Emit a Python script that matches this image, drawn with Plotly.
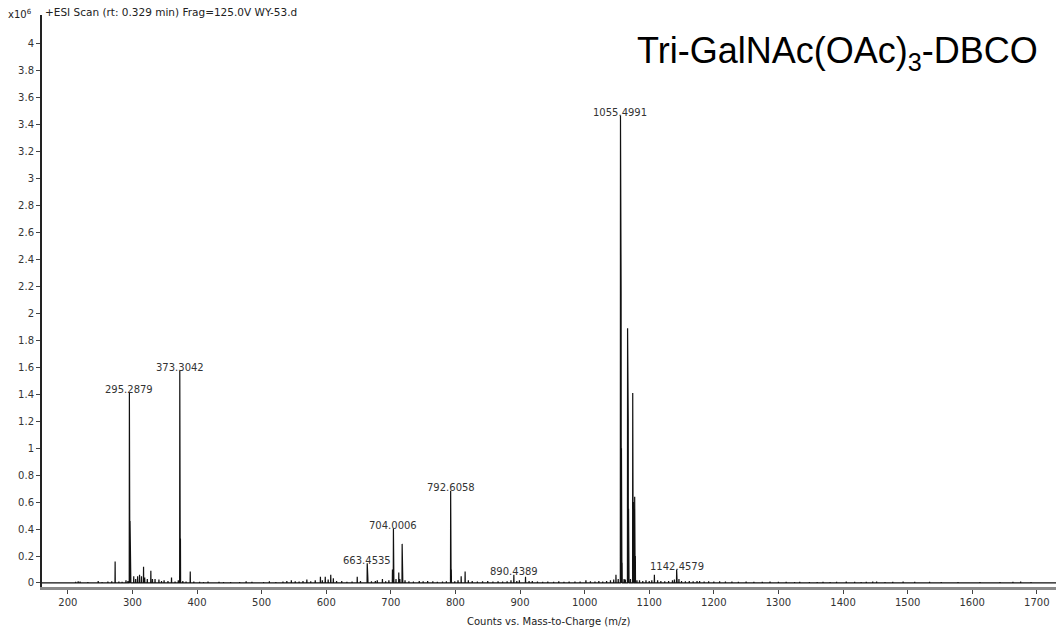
import plotly.graph_objects as go

# Labeled peaks (m/z, intensity x10^6)
label_mz = [295.2879, 373.3042, 663.4535, 704.0006, 792.6058, 890.4389, 1055.4991, 1142.4579]
label_int = [1.41, 1.575, 0.146, 0.405, 0.685, 0.06, 3.47, 0.10]
label_text = ["295.2879", "373.3042", "663.4535", "704.0006", "792.6058", "890.4389", "1055.4991", "1142.4579"]

# Other peaks (isotopes, adducts, and baseline noise), read by eye
other_mz = [205, 212, 216, 219, 224, 231, 238, 247, 253, 262, 268, 273.2, 279, 284, 290, 293,
            296.29, 297.3, 302, 305, 308, 311, 314, 317.2, 319, 323, 328.5, 331, 335, 341, 345, 349,
            355, 360.5, 366, 371, 374.31, 378, 383, 389.5, 395, 404, 410, 417, 425, 434, 441, 452,
            466, 476, 485, 493, 503, 512, 522, 533, 539, 546, 552, 558, 564, 570, 576, 583, 591,
            594, 598.5, 603, 607, 611, 616, 624, 632, 640, 648, 653, 664.4, 670, 676, 679, 687,
            692, 697, 702.5, 704.5, 708, 712.3, 714, 717.5, 718.3, 722, 728, 735, 744, 750, 757,
            765, 772, 780, 786, 793.1, 793.6, 799, 804, 808.9, 815, 820, 826, 834, 842, 850, 858,
            866, 873, 880, 886, 895, 899, 908.5, 914, 919, 927, 935, 943, 952, 960, 968, 976, 985,
            993, 1002, 1009, 1016, 1022, 1028, 1034, 1040, 1045, 1048.5, 1052, 1056.0, 1056.5,
            1057.0, 1057.5, 1058.0, 1061, 1063, 1066.49, 1067.0, 1067.5, 1068.0, 1068.5, 1071,
            1074.47, 1074.97, 1075.5, 1076.0, 1077.48, 1078.0, 1078.5, 1081, 1085, 1090, 1095,
            1100, 1104, 1108, 1113, 1118, 1124, 1130, 1136, 1139, 1143, 1146, 1150, 1156, 1162,
            1168, 1174, 1178, 1185, 1192, 1200, 1209, 1218, 1228, 1238, 1250, 1262, 1275, 1287,
            1300, 1312, 1325, 1333, 1348, 1360, 1369, 1380, 1390, 1405, 1418, 1428, 1436, 1446,
            1452, 1465, 1477, 1493, 1503, 1511, 1522, 1534, 1552, 1565, 1578, 1593, 1612, 1627,
            1643, 1663, 1675, 1691, 1705, 1718]
other_int = [0.005, 0.008, 0.012, 0.01, 0.005, 0.006, 0.004, 0.015, 0.006, 0.01, 0.012, 0.16, 0.01, 0.008, 0.02, 0.015,
             0.46, 0.245, 0.05, 0.03, 0.05, 0.06, 0.05, 0.12, 0.04, 0.03, 0.09, 0.03, 0.03, 0.025, 0.015, 0.02,
             0.015, 0.04, 0.01, 0.02, 0.33, 0.015, 0.01, 0.085, 0.01, 0.008, 0.006, 0.01, 0.005, 0.008, 0.006, 0.007,
             0.006, 0.012, 0.008, 0.005, 0.006, 0.012, 0.006, 0.01, 0.015, 0.02, 0.012, 0.01, 0.015, 0.025, 0.012, 0.02, 0.045,
             0.02, 0.045, 0.025, 0.06, 0.035, 0.015, 0.015, 0.008, 0.01, 0.045, 0.015, 0.04, 0.012, 0.015, 0.02, 0.03,
             0.012, 0.02, 0.1, 0.12, 0.03, 0.077, 0.03, 0.29, 0.08, 0.02, 0.012, 0.01, 0.015, 0.012, 0.015,
             0.012, 0.008, 0.01, 0.012, 0.37, 0.1, 0.012, 0.02, 0.05, 0.085, 0.02, 0.015, 0.01, 0.012, 0.015, 0.01,
             0.012, 0.01, 0.012, 0.02, 0.015, 0.02, 0.045, 0.015, 0.015, 0.01, 0.008, 0.01, 0.008, 0.012, 0.008, 0.01, 0.01,
             0.01, 0.02, 0.012, 0.01, 0.015, 0.01, 0.015, 0.02, 0.025, 0.06, 0.03, 2.83, 2.15,
             1.0, 0.4, 0.15, 0.03, 0.025, 1.89, 1.60, 1.22, 0.55, 0.2, 0.03,
             1.41, 1.19, 0.6, 0.25, 0.64, 0.45, 0.2, 0.02, 0.02, 0.015, 0.02,
             0.015, 0.02, 0.06, 0.02, 0.015, 0.012, 0.015, 0.02, 0.025, 0.05, 0.03, 0.015, 0.012, 0.015,
             0.012, 0.015, 0.015, 0.01, 0.012, 0.01, 0.012, 0.01, 0.01, 0.008, 0.01, 0.008, 0.008, 0.01,
             0.008, 0.008, 0.007, 0.008, 0.007, 0.006, 0.008, 0.006, 0.008, 0.01, 0.008, 0.006, 0.008, 0.01,
             0.01, 0.006, 0.008, 0.01, 0.005, 0.008, 0.005, 0.008, 0.006, 0.005, 0.006, 0.005, 0.006, 0.005,
             0.006, 0.008, 0.01, 0.007, 0.005, 0.005]

x_ticks = [200, 300, 400, 500, 600, 700, 800, 900, 1000, 1100, 1200, 1300, 1400, 1500, 1600, 1700]
y_ticks = [0, 0.2, 0.4, 0.6, 0.8, 1, 1.2, 1.4, 1.6, 1.8, 2, 2.2, 2.4, 2.6, 2.8, 3, 3.2, 3.4, 3.6, 3.8, 4]
y_ticktext = ["0", "0.2", "0.4", "0.6", "0.8", "1", "1.2", "1.4", "1.6", "1.8", "2", "2.2", "2.4",
              "2.6", "2.8", "3", "3.2", "3.4", "3.6", "3.8", "4"]

X_MIN, X_MAX = 160, 1729.7

# Build stick/profile spectrum from the peak lists
peaks = sorted(zip(label_mz + other_mz, label_int + other_int))
xs, ys = [X_MIN], [0]
w = 0.25
for m, it in peaks:
    xs += [m - w, m, m + w]
    ys += [0, it, 0]
xs.append(X_MAX)
ys.append(0)

fig = go.Figure()
fig.add_trace(go.Scatter(x=xs, y=ys, mode="lines",
                         line=dict(color="#111111", width=1.2), hoverinfo="skip", showlegend=False))

lab_font = dict(family="DejaVu Sans", size=10, color="#333333")
for m, it, t in zip(label_mz, label_int, label_text):
    fig.add_annotation(x=m, y=it, text=t, showarrow=False, xanchor="center", yanchor="middle",
                       yshift=3, font=lab_font)

fig.add_annotation(xref="paper", yref="paper", x=0.984, y=(587 - 53) / 572, xanchor="right", yanchor="middle",
                   text="Tri-GalNAc(OAc)<sub>3</sub>-DBCO", showarrow=False,
                   font=dict(family="Liberation Sans", size=36, color="#000000"))
fig.add_annotation(xref="paper", yref="paper", x=(43 - 42) / 1014, y=(587 - 12) / 572, xanchor="left", yanchor="middle",
                   text="+ESI Scan (rt: 0.329 min) Frag=125.0V WY-53.d", showarrow=False,
                   font=dict(family="DejaVu Sans", size=10.5, color="#222222"))
fig.add_annotation(xref="paper", yref="paper", x=(20 - 42) / 1014, y=(587 - 14) / 572, xanchor="center", yanchor="middle",
                   text="x10<sup>6</sup>", showarrow=False,
                   font=dict(family="DejaVu Sans", size=10, color="#222222"))
fig.add_annotation(xref="paper", yref="paper", x=(549 - 42) / 1014, y=(587 - 621) / 572, xanchor="center", yanchor="middle",
                   text="Counts vs. Mass-to-Charge (m/z)", showarrow=False,
                   font=dict(family="DejaVu Sans", size=10, color="#222222"))

fig.update_layout(
    width=1056, height=636,
    margin=dict(l=42, r=0, t=15, b=49, pad=0),
    paper_bgcolor="white", plot_bgcolor="white",
    xaxis=dict(range=[X_MIN, X_MAX], tickvals=x_ticks, ticks="outside", ticklen=4, tickcolor="#444",
               showgrid=False, zeroline=False, showline=True, linecolor="#8a8a8a", linewidth=3,
               tickfont=dict(family="DejaVu Sans", size=10, color="#333333")),
    yaxis=dict(range=[-0.03, 4.215], tickvals=y_ticks, ticktext=y_ticktext, ticks="outside", ticklen=4,
               tickcolor="#444", showgrid=False, zeroline=False, showline=True, linecolor="#222222",
               linewidth=2, tickfont=dict(family="DejaVu Sans", size=10, color="#333333")),
)

fig.write_html("out.html")
